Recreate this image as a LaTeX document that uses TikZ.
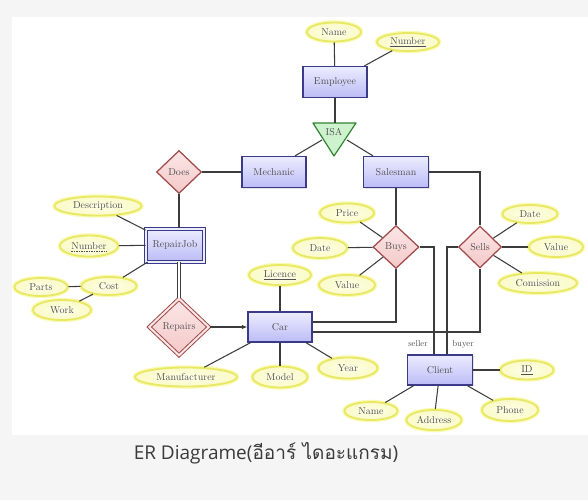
\documentclass[tikz,border=0pt]{standalone}
\usepackage{fontspec}
\newfontfamily\capfont{Open Sans}
\newfontfamily\thaifont[Script=Thai]{Loma}
\usetikzlibrary{shapes.geometric,arrows.meta,shadows}

\definecolor{pagebg}{RGB}{245,245,245}
\definecolor{ink}{RGB}{60,60,60}
\definecolor{txt}{RGB}{80,80,80}
\definecolor{entTop}{RGB}{236,236,255}
\definecolor{entBot}{RGB}{188,188,246}
\definecolor{entLine}{RGB}{58,58,135}
\definecolor{relTop}{RGB}{252,230,230}
\definecolor{relBot}{RGB}{244,200,200}
\definecolor{relLine}{RGB}{160,75,75}
\definecolor{attFill}{RGB}{255,255,232}
\definecolor{attEdge}{RGB}{250,250,200}
\definecolor{attLine}{RGB}{232,232,100}
\definecolor{attGlow}{RGB}{250,250,180}
\definecolor{isaFill}{RGB}{205,242,205}
\definecolor{isaLine}{RGB}{50,130,50}
\definecolor{captxt}{RGB}{58,58,58}

\tikzset{
  every node/.style={font=\fontsize{10}{12}\selectfont, text=txt},
  link/.style={draw=ink, line width=1.05pt},
  entity/.style={rectangle, inner sep=0pt, draw=entLine, line width=1.25pt,
    top color=entTop, bottom color=entBot,
    drop shadow={opacity=0.2, shadow xshift=1pt, shadow yshift=-1pt},
    minimum width=64pt, minimum height=31pt},
  weakentity/.style={entity, double=entTop, double distance=2pt, line width=1pt},
  relation/.style={diamond, inner sep=0pt, draw=relLine, line width=1.25pt,
    top color=relTop, bottom color=relBot,
    minimum width=45pt, minimum height=43pt},
  weakrelation/.style={relation, double=relTop, double distance=2pt, line width=1pt},
  attrib/.style={ellipse, inner sep=0pt, draw=attLine, line width=1.8pt,
    inner color=attFill, outer color=attEdge,
    preaction={draw=attGlow, line width=4.5pt}},
  rolelabel/.style={font=\fontsize{8.5}{10}\selectfont},
}

\begin{document}
\begin{tikzpicture}[x=1pt,y=-1pt]
  % page and white panel
  \fill[pagebg] (0,0) rectangle (588,500);
  \fill[white] (12,17) rectangle (588,435);
  \useasboundingbox (0,0) rectangle (588,500);

  % entities
  \node[entity] (emp) at (335,82) {Employee};
  \node[entity] (mech) at (274,172) {Mechanic};
  \node[entity, minimum width=65pt] (sales) at (396,172) {Salesman};
  \node[weakentity, minimum width=58pt, minimum height=33pt] (rj) at (175,245) {RepairJob};
  \node[entity, minimum height=30pt] (car) at (280,327) {Car};
  \node[entity, minimum width=65pt, minimum height=30pt] (client) at (440,370) {Client};

  % ISA triangle
  \coordinate (isaTL) at (313,123);
  \coordinate (isaTR) at (356,123);
  \coordinate (isaB) at (334,156);
  \filldraw[fill=isaFill, draw=isaLine, line width=1.2pt, line join=round]
    (isaTL) -- (isaTR) -- (isaB) -- cycle;
  \node (isa) at (334,132) {ISA};
  \coordinate (isaTop) at (335,123);
  \coordinate (isaL) at (322,140);
  \coordinate (isaR) at (347,140);

  % relationships
  \node[relation] (does) at (179,172) {Does};
  \node[relation, minimum width=46pt] (buys) at (396,247) {Buys};
  \node[relation, minimum width=43pt, minimum height=42pt] (sells) at (480,247) {Sells};
  \node[weakrelation, minimum width=60pt, minimum height=57pt] (repairs) at (179,327) {Repairs};

  % attributes
  \node[attrib, minimum width=54pt, minimum height=19pt] (eName) at (334,32) {Name};
  \node[attrib, minimum width=62pt, minimum height=18pt] (eNum) at (408,42) {\underline{Number}};
  \node[attrib, minimum width=87pt, minimum height=19pt] (desc) at (98,206) {Description};
  \node[attrib, minimum width=58pt, minimum height=21pt] (rjNum) at (89,246) {Number};
  \draw[draw=txt, line width=0.5pt, dash pattern=on 1.5pt off 1pt]
    ([xshift=-18pt,yshift=-5pt]rjNum.center) -- ([xshift=18pt,yshift=-5pt]rjNum.center);
  \node[attrib, minimum width=55pt, minimum height=18pt] (cost) at (109,286) {Cost};
  \node[attrib, minimum width=53pt, minimum height=18pt] (parts) at (41,287) {Parts};
  \node[attrib, minimum width=58pt, minimum height=20pt] (work) at (62,310) {Work};
  \node[attrib, minimum width=54pt, minimum height=19pt] (price) at (347,213) {Price};
  \node[attrib, minimum width=54pt, minimum height=20pt] (bDate) at (320,248) {Date};
  \node[attrib, minimum width=56pt, minimum height=20pt] (bValue) at (347,285) {Value};
  \node[attrib, minimum width=55pt, minimum height=18pt] (sDate) at (530,214) {Date};
  \node[attrib, minimum width=54pt, minimum height=20pt] (sValue) at (556,247) {Value};
  \node[attrib, minimum width=78pt, minimum height=20pt] (comm) at (538,283) {Comission};
  \node[attrib, minimum width=62pt, minimum height=20pt] (lic) at (280,275) {\underline{Licence}};
  \node[attrib, minimum width=102pt, minimum height=19pt] (manuf) at (186,377) {Manufacturer};
  \node[attrib, minimum width=55pt, minimum height=21pt] (model) at (280,377) {Model};
  \node[attrib, minimum width=59pt, minimum height=21pt] (year) at (348,368) {Year};
  \node[attrib, minimum width=53pt, minimum height=18pt] (cName) at (371,411) {Name};
  \node[attrib, minimum width=55pt, minimum height=20pt] (addr) at (434,420) {Address};
  \node[attrib, minimum width=56pt, minimum height=22pt] (phone) at (510,410) {Phone};
  \node[attrib, minimum width=53pt, minimum height=19pt] (cid) at (527,370) {\underline{ID}};

  % role labels
  \node[rolelabel] (seller) at (418,344) {seller};
  \node[rolelabel] (buyer) at (463,344) {buyer};

  % connectors
  \draw[link] (eName) -- (emp);
  \draw[link] (eNum) -- (emp);
  \draw[link] (emp.south) -- (isaTop);
  \draw[link] (isaL) -- ([xshift=21pt]mech.north);
  \draw[link] (isaR) -- ([xshift=-23pt]sales.north);
  \draw[link] (does) -- (mech);
  \draw[link] (does.south) -- (does.south |- rj.north);
  \draw[link] (desc) -- (rj);
  \draw[link] (rjNum) -- (rj);
  \draw[link] (cost) -- (rj);
  \draw[link] (parts) -- (cost);
  \draw[link] (work) -- (cost);
  \draw[draw=ink, line width=0.9pt, double=white, double distance=2.6pt]
    (repairs.north |- rj.south) -- (repairs.north);
  \draw[link, -{Latex[length=5.5pt,width=4.5pt]}] (repairs.east) -- (car.west);
  \draw[link] (lic) -- (car);
  \draw[link] (manuf) -- (car);
  \draw[link] (model) -- (car);
  \draw[link] (year) -- (car);
  \draw[link] (sales.south) -- (buys.north);
  \draw[link] (sales.east) -| (sells.north);
  \draw[link] (price) -- (buys);
  \draw[link] (bDate) -- (buys);
  \draw[link] (bValue) -- (buys);
  \draw[link] (sDate) -- (sells);
  \draw[link] (sValue) -- (sells);
  \draw[link] (comm) -- (sells);
  \draw[link] ([yshift=5pt]car.east) -| (buys.south);
  \draw[link] ([yshift=-5pt]car.east) -| (sells.south);
  \draw[link] (buys.east) -| ([xshift=-6pt]client.north);
  \draw[link] (sells.west) -| ([xshift=7pt]client.north);
  \draw[link] (cid) -- (client);
  \draw[link] (cName) -- (client);
  \draw[link] (addr) -- (client);
  \draw[link] (phone) -- (client);

  % caption
  \node[text=captxt, font=\capfont\fontsize{19}{22}\selectfont]
    (caption) at (266,453) {ER Diagrame(\thaifont อีอาร์ ไดอะแกรม\capfont)};
\end{tikzpicture}
\end{document}
